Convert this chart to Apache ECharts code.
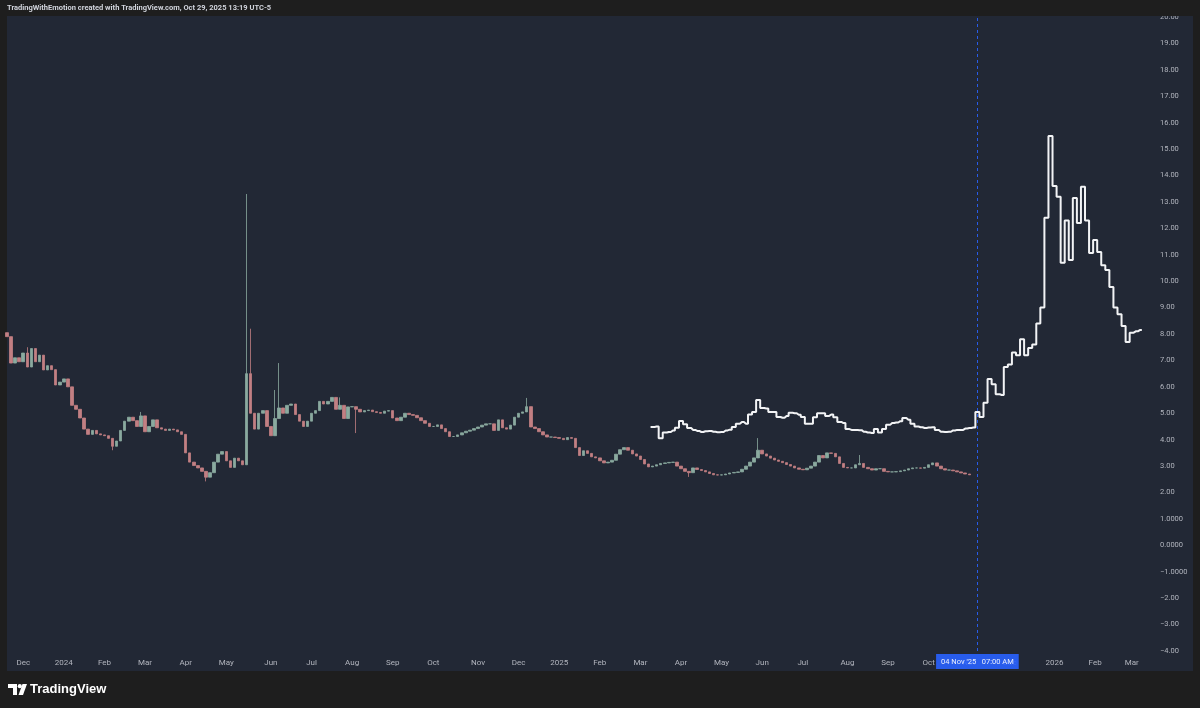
<!DOCTYPE html>
<html>
<head>
<meta charset="utf-8">
<script src="https://cdn.jsdelivr.net/npm/echarts@6/dist/echarts.min.js"></script>
<style>
html,body{margin:0;padding:0;background:#1e1e1e;}
#chart{width:1200px;height:708px;}
</style>
</head>
<body>
<div id="chart"></div>
<script>
// ---------------- DATA ----------------
const startDate = '2023-11-19';   // first category (3-day steps)
const stepDays = 3;
const categoryCount = 283;
const monthNames = ['Jan','Feb','Mar','Apr','May','Jun','Jul','Aug','Sep','Oct','Nov','Dec'];
const yTickValues = [-4,-3,-2,-1,0,1,2,3,4,5,6,7,8,9,10,11,12,13,14,15,16,17,18,19,20];
const yTickLabels = ['\u22124.00','\u22123.00','\u22122.00','\u22121.0000','0.0000','1.0000','2.00','3.00','4.00','5.00','6.00','7.00','8.00','9.00','10.00','11.00','12.00','13.00','14.00','15.00','16.00','17.00','18.00','19.00','20.00'];

// price history candles (close of each 3-day step), open = previous close
const candleFirstOpen = 8.05;
const candleClose = [
 7.9,6.9,7.1,6.95,7.28,6.75,7.45,6.95,7.2,6.64,
 6.8,6.65,6.07,6.18,6.3,6.0,5.3,5.15,4.82,4.4,
 4.2,4.35,4.22,4.18,4.15,4.05,3.75,3.95,4.35,4.7,
 4.85,4.72,4.5,4.9,4.3,4.5,4.75,4.45,4.4,4.35,
 4.4,4.37,4.3,4.2,3.5,3.15,3.02,2.93,2.8,2.58,
 2.75,3.15,3.45,3.55,3.2,2.95,3.3,3.2,3.05,6.5,
 5.0,4.4,5.0,5.1,4.5,4.15,4.8,5.2,5.0,5.3,
 5.35,4.95,4.7,4.5,4.7,5.0,5.1,5.45,5.35,5.45,
 5.6,5.15,5.3,4.8,5.24,5.25,5.15,5.05,5.1,5.12,
 5.06,5.03,5.0,5.08,5.1,4.82,4.72,4.85,5.0,4.95,
 4.92,4.83,4.72,4.62,4.5,4.5,4.56,4.42,4.3,4.12,
 4.12,4.18,4.26,4.32,4.36,4.42,4.48,4.55,4.6,4.6,
 4.35,4.75,4.45,4.4,4.55,4.85,5.0,5.05,5.25,4.48,
 4.42,4.3,4.18,4.1,4.1,4.08,4.05,4.0,4.08,4.05,
 3.7,3.4,3.58,3.48,3.35,3.31,3.2,3.12,3.15,3.22,
 3.45,3.62,3.7,3.6,3.46,3.38,3.25,3.08,2.97,3.0,
 3.05,3.1,3.12,3.14,3.15,3.0,2.9,2.8,2.75,2.93,
 2.87,2.83,2.78,2.72,2.67,2.66,2.67,2.7,2.74,2.76,
 2.78,2.88,3.0,3.15,3.31,3.6,3.46,3.38,3.3,3.23,
 3.18,3.13,3.06,3.0,2.93,2.88,2.86,2.92,3.0,3.15,
 3.4,3.31,3.5,3.48,3.35,3.1,2.95,2.93,2.93,3.05,
 3.1,2.95,2.9,2.85,2.9,2.9,2.8,2.78,2.78,2.79,
 2.82,2.85,2.9,2.93,2.93,2.92,2.95,3.05,3.12,3.0,
 2.9,2.85,2.85,2.82,2.78,2.74,2.7,2.67
];
// notable wicks: [candle index, price]
const wickHighs = [[5,7.5],[33,5.05],[59,13.3],[60,8.2],[66,5.88],[67,6.9],[82,5.6],[128,5.58],[185,4.06],[210,3.42]];
const wickLows  = [[26,3.6],[49,2.42],[86,4.25],[168,2.59]];

// projected path (white line)
const projectionStart = '2025-03-10';
const projectionValues = [
 4.48,4.5,4.05,4.27,4.29,4.35,4.45,4.71,4.58,4.44,
 4.37,4.33,4.29,4.32,4.33,4.3,4.28,4.29,4.35,4.38,
 4.48,4.6,4.67,4.6,4.95,5.05,5.5,5.2,5.18,5.05,
 5.05,4.86,4.83,4.9,5.02,5.0,4.94,4.86,4.6,4.6,
 4.85,5.0,5.0,4.9,4.95,4.85,4.67,4.63,4.4,4.37,
 4.37,4.36,4.3,4.27,4.25,4.4,4.27,4.4,4.56,4.63,
 4.65,4.7,4.82,4.75,4.6,4.5,4.47,4.44,4.46,4.47,
 4.37,4.3,4.29,4.3,4.35,4.37,4.37,4.42,4.44,4.46,
 5.05,4.86,5.4,6.3,6.1,5.72,5.69,6.75,6.85,7.3,
 7.2,7.8,7.2,7.47,7.6,8.4,9.0,12.4,15.5,13.6,
 13.2,10.7,12.3,10.8,13.15,12.2,13.57,12.3,11.07,11.56,
 11.1,10.6,10.42,9.78,9.0,8.75,8.3,7.7,8.05,8.1,
 8.15
];

const markerDate = '2025-11-05';
const markerLabel = "04 Nov '25   07:00 AM";
const headerText = 'TradingWithEmotion created with TradingView.com, Oct 29, 2025 13:19 UTC-5';

// ---------------- BUILD ----------------
const DAY = 86400000;
const t0 = Date.parse(startDate + 'T00:00:00Z');
function fmt(t){ return new Date(t).toISOString().slice(0,10); }
const categories = [];
for (let i = 0; i < categoryCount; i++) categories.push(fmt(t0 + i * stepDays * DAY));

function monthStartIn(dateStr){
  const t = Date.parse(dateStr + 'T00:00:00Z');
  for (let k = 0; k < stepDays; k++) {
    const d = new Date(t + k * DAY);
    if (d.getUTCDate() === 1) return d;
  }
  return null;
}

const hiMap = {}; wickHighs.forEach(w => hiMap[w[0]] = w[1]);
const loMap = {}; wickLows.forEach(w => loMap[w[0]] = w[1]);
const candleData = candleClose.map((c, i) => {
  const o = i === 0 ? candleFirstOpen : candleClose[i - 1];
  let lo = Math.min(o, c), hi = Math.max(o, c);
  if (hiMap[i] !== undefined) hi = Math.max(hi, hiMap[i]);
  if (loMap[i] !== undefined) lo = Math.min(lo, loMap[i]);
  return [o, c, lo, hi];
});

const projStartIdx = categories.indexOf(projectionStart);
const projData = categories.map((c, i) => {
  const k = i - projStartIdx;
  return (k >= 0 && k < projectionValues.length) ? projectionValues[k] : null;
});

const chart = echarts.init(document.getElementById('chart'), null, {renderer: 'canvas'});
const axisFont = 'Roboto, "Liberation Sans", sans-serif';

chart.setOption({
  animation: false,
  backgroundColor: '#1e1e1e',
  grid: {left: 7, right: 48, top: 17, bottom: 57, containLabel: false},
  xAxis: {
    type: 'category',
    data: categories,
    boundaryGap: false,
    axisLine: {show: false},
    axisTick: {show: false},
    splitLine: {show: false},
    axisLabel: {
      color: '#b2b5be',
      fontSize: 8,
      fontFamily: axisFont,
      margin: 8,
      interval: function (idx, val) { return monthStartIn(val) !== null; },
      formatter: function (val) {
        const d = monthStartIn(val);
        if (!d) return '';
        return d.getUTCMonth() === 0 ? String(d.getUTCFullYear()) : monthNames[d.getUTCMonth()];
      }
    }
  },
  yAxis: {
    type: 'value',
    position: 'right',
    min: -4, max: 20, interval: 1,
    axisLine: {show: false},
    axisTick: {show: false},
    splitLine: {show: false},
    axisLabel: {
      color: '#b2b5be',
      fontSize: 7.5,
      fontFamily: axisFont,
      margin: 8,
      align: 'left',
      formatter: function (v) {
        const k = yTickValues.indexOf(Math.round(v));
        return k >= 0 ? yTickLabels[k] : '';
      }
    }
  },
  series: [
    {
      type: 'candlestick',
      data: candleData,
      barWidth: 3,
      itemStyle: {
        color: '#8aaa9f', color0: '#c27f83',
        borderColor: '#8aaa9f', borderColor0: '#c27f83',
        borderWidth: 0.8
      },
      z: 2
    },
    {
      type: 'line',
      data: projData,
      step: 'middle',
      showSymbol: false,
      symbol: 'none',
      connectNulls: false,
      lineStyle: {color: '#f2f3f5', width: 2},
      z: 3,
      markLine: {
        silent: true,
        symbol: ['none', 'none'],
        lineStyle: {color: '#2962ff', type: [3, 3], width: 1, opacity: 0.9},
        emphasis: {disabled: true},
        label: {
          show: true,
          position: 'start',
          distance: 3,
          formatter: markerLabel,
          color: '#ffffff',
          backgroundColor: '#2962ff',
          padding: [4, 5, 3, 5],
          fontSize: 7.5,
          fontFamily: axisFont
        },
        data: [{xAxis: markerDate}]
      }
    }
  ],
  graphic: {
    elements: [
      {type: 'rect', silent: true, z: -10, shape: {x: 7, y: 16, width: 1186, height: 655}, style: {fill: '#222835'}},
      {type: 'rect', silent: true, z: 100, shape: {x: 0, y: 0, width: 1200, height: 16}, style: {fill: '#1e1e1e'}},
      {type: 'text', silent: true, z: 101, x: 7, y: 8, style: {text: headerText, fill: '#d1d4dc', fontSize: 7.5, fontWeight: 'bold', fontFamily: axisFont, verticalAlign: 'middle'}},
      {type: 'polygon', silent: true, z: 101, shape: {points: [[8,684],[17,684],[17,695],[13,695],[13,688],[8,688]]}, style: {fill: '#ffffff'}},
      {type: 'circle', silent: true, z: 101, shape: {cx: 19.8, cy: 686.2, r: 2.1}, style: {fill: '#ffffff'}},
      {type: 'polygon', silent: true, z: 101, shape: {points: [[22.5,684],[27,684],[23,695],[18.5,695]]}, style: {fill: '#ffffff'}},
      {type: 'text', silent: true, z: 101, x: 30, y: 689.5, style: {text: 'TradingView', fill: '#ffffff', fontSize: 13, fontWeight: 'bold', fontFamily: '"Liberation Sans", sans-serif', verticalAlign: 'middle'}}
    ]
  }
});
</script>
</body>
</html>
